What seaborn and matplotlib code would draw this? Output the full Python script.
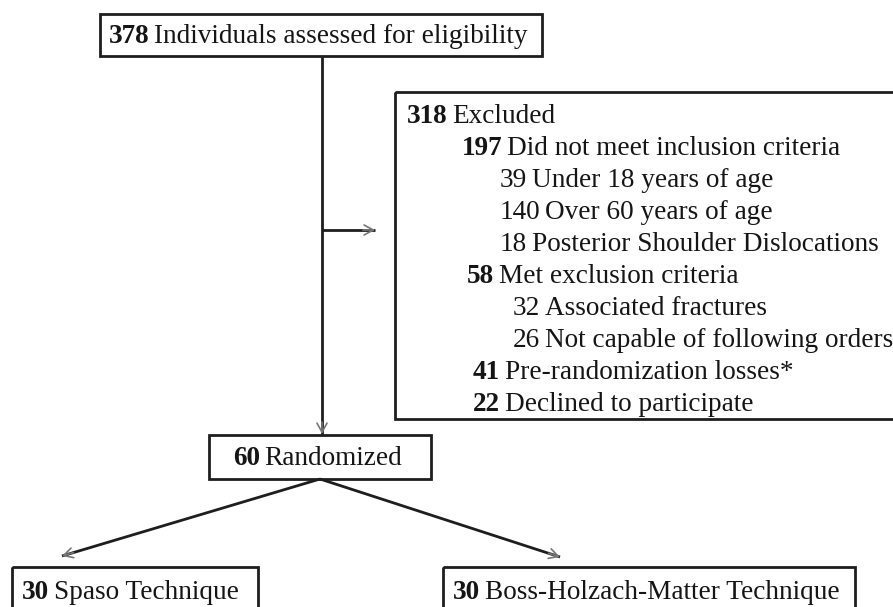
import matplotlib
matplotlib.use("Agg")
import matplotlib.pyplot as plt
import seaborn as sns
from matplotlib.patches import Rectangle

sns.set_theme(style="white")
plt.rcParams['font.family'] = ['Liberation Serif', 'DejaVu Serif']

# ---------------- data ----------------
screened_n = "378"
screened_label = "Individuals assessed for eligibility"

excluded_counts = ["318", "197", "39", "140", "18", "58", "32", "26", "41", "22"]
excluded_labels = ["Excluded",
                   "Did not meet inclusion criteria",
                   "Under 18 years of age",
                   "Over 60 years of age",
                   "Posterior Shoulder Dislocations",
                   "Met exclusion criteria",
                   "Associated fractures",
                   "Not capable of following orders",
                   "Pre-randomization losses*",
                   "Declined to participate"]
excluded_bold = [True, True, False, False, False, True, False, False, True, True]

randomized_n = "60"
randomized_label = "Randomized"

arm_counts = ["30", "30"]
arm_labels = ["Spaso Technique", "Boss-Holzach-Matter Technique"]

# ---------------- layout ----------------
excluded_x = [407, 462, 500, 500, 500, 467, 513, 513, 473, 473]
excluded_y0, excluded_dy = 115, 32.0

FS = 27.2 * 72 / 100         # ~27 px font at dpi 100
SPACE_PT = 0.17 * FS         # gap between number and label
TXT = '#151515'
EDGE = '#1e1e1e'
LW = 2.0

fig = plt.figure(figsize=(8.93, 6.07), dpi=100)
ax = fig.add_axes([0, 0, 1, 1])
ax.set_xlim(0, 893)
ax.set_ylim(607, 0)
ax.axis('off')
sns.despine(ax=ax, left=True, bottom=True)


def label(x, yc, num, rest, bold=True):
    t1 = ax.text(x, yc + 8, num, ha='left', va='baseline', fontsize=FS,
                 fontweight='bold' if bold else 'normal', color=TXT)
    ax.annotate(rest, xy=(1, 0), xycoords=t1, xytext=(SPACE_PT, 0),
                textcoords='offset points', ha='left', va='bottom',
                fontsize=FS, color=TXT)


def box(x0, y0, x1, y1):
    ax.add_patch(Rectangle((x0, y0), x1 - x0, y1 - y0, fill=False,
                           edgecolor=EDGE, lw=LW, zorder=3))


def arrow(p0, p1):
    ax.plot([p0[0], p1[0]], [p0[1], p1[1]], color=EDGE, lw=LW,
            solid_capstyle='butt', zorder=2)
    dx, dy = p1[0] - p0[0], p1[1] - p0[1]
    L = (dx ** 2 + dy ** 2) ** 0.5
    back = (p1[0] - dx / L * 12, p1[1] - dy / L * 12)
    ax.annotate('', xy=p1, xytext=back,
                arrowprops=dict(arrowstyle='->,head_length=0.55,head_width=0.3',
                                color='#777777', lw=1.2, shrinkA=0, shrinkB=0),
                zorder=2)


# boxes
box(100, 14, 542, 56)
box(395, 92, 905, 419)
box(209, 435, 431, 479)
box(12, 567, 258, 630)
box(443, 567, 855, 630)

# texts
label(109, 35, screened_n, screened_label, True)
for i, (n, lab, b) in enumerate(zip(excluded_counts, excluded_labels, excluded_bold)):
    label(excluded_x[i], excluded_y0 + i * excluded_dy, n, lab, b)
label(233, 457, randomized_n, randomized_label, True)
label(22, 591, arm_counts[0], arm_labels[0], True)
label(453, 591, arm_counts[1], arm_labels[1], True)

# connectors
arrow((322, 56), (322, 434))
arrow((322, 230), (375, 230))
arrow((320, 479), (62, 556))
arrow((320, 479), (560, 557))

fig.savefig('out.png', dpi=100, facecolor='white')
